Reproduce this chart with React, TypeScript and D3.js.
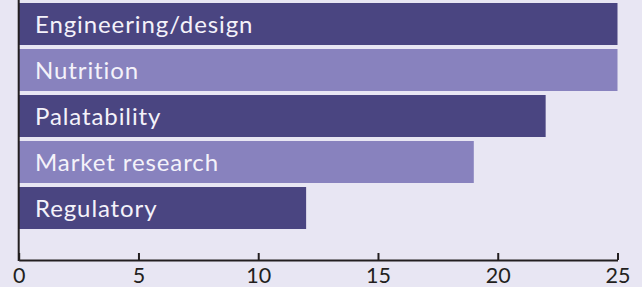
import React, { useEffect, useRef } from "react";
import * as d3 from "d3";

const categories = ["Engineering/design", "Nutrition", "Palatability", "Market research", "Regulatory"];
const values = [25, 25, 22, 19, 12];
const tickValues = [0, 5, 10, 15, 20, 25];

const W = 642;
const H = 287;
const BG = "#e8e6f3";
const DARK = "#4a4581";
const LIGHT = "#8882be";
const AXIS = "#231f20";
const FONT = "Lato, 'Open Sans', sans-serif";

export default function App() {
  const ref = useRef<SVGSVGElement>(null);
  useEffect(() => {
    const svg = d3.select(ref.current);
    svg.selectAll("*").remove();
    const x = d3.scaleLinear().domain([0, 25]).range([18.7, 617.5]);
    const y = d3
      .scaleBand()
      .domain(categories)
      .range([1, 231])
      .paddingInner(4 / 46)
      .paddingOuter(2 / 46);

    svg.append("rect").attr("width", W).attr("height", H).attr("fill", BG);

    const g = svg.append("g");
    g.selectAll("rect.bar")
      .data(categories)
      .join("rect")
      .attr("class", "bar")
      .attr("x", x(0))
      .attr("y", (d) => y(d)!)
      .attr("width", (d, i) => x(values[i]) - x(0))
      .attr("height", y.bandwidth())
      .attr("fill", (d, i) => (i % 2 === 0 ? DARK : LIGHT));

    g.selectAll("text.lbl")
      .data(categories)
      .join("text")
      .attr("class", "lbl")
      .attr("x", 35)
      .attr("y", (d) => y(d)! + y.bandwidth() / 2 + 8.5)
      .attr("fill", "#f4f2fa")
      .attr("font-family", FONT)
      .attr("font-size", 24)
      .attr("letter-spacing", 0.9)
      .text((d) => d);

    // y axis line
    svg
      .append("line")
      .attr("x1", x(0))
      .attr("x2", x(0))
      .attr("y1", 0)
      .attr("y2", 261)
      .attr("stroke", AXIS)
      .attr("stroke-width", 2);

    const axis = d3.axisBottom(x).tickValues(tickValues).tickSize(-7).tickSizeOuter(0);
    const ag = svg.append("g").attr("transform", "translate(0,260)").call(axis);
    ag.select(".domain").attr("stroke", AXIS).attr("stroke-width", 2);
    ag.selectAll(".tick line").attr("stroke", AXIS).attr("stroke-width", 2);
    ag.selectAll(".tick text")
      .attr("fill", AXIS)
      .attr("y", 23)
      .attr("dy", 0)
      .attr("font-family", FONT)
      .attr("font-size", 21.5);
  }, []);
  return (
    <svg
      ref={ref}
      width={W}
      height={H}
      style={{ position: "absolute", left: 0, top: 0, display: "block" }}
    />
  );
}
